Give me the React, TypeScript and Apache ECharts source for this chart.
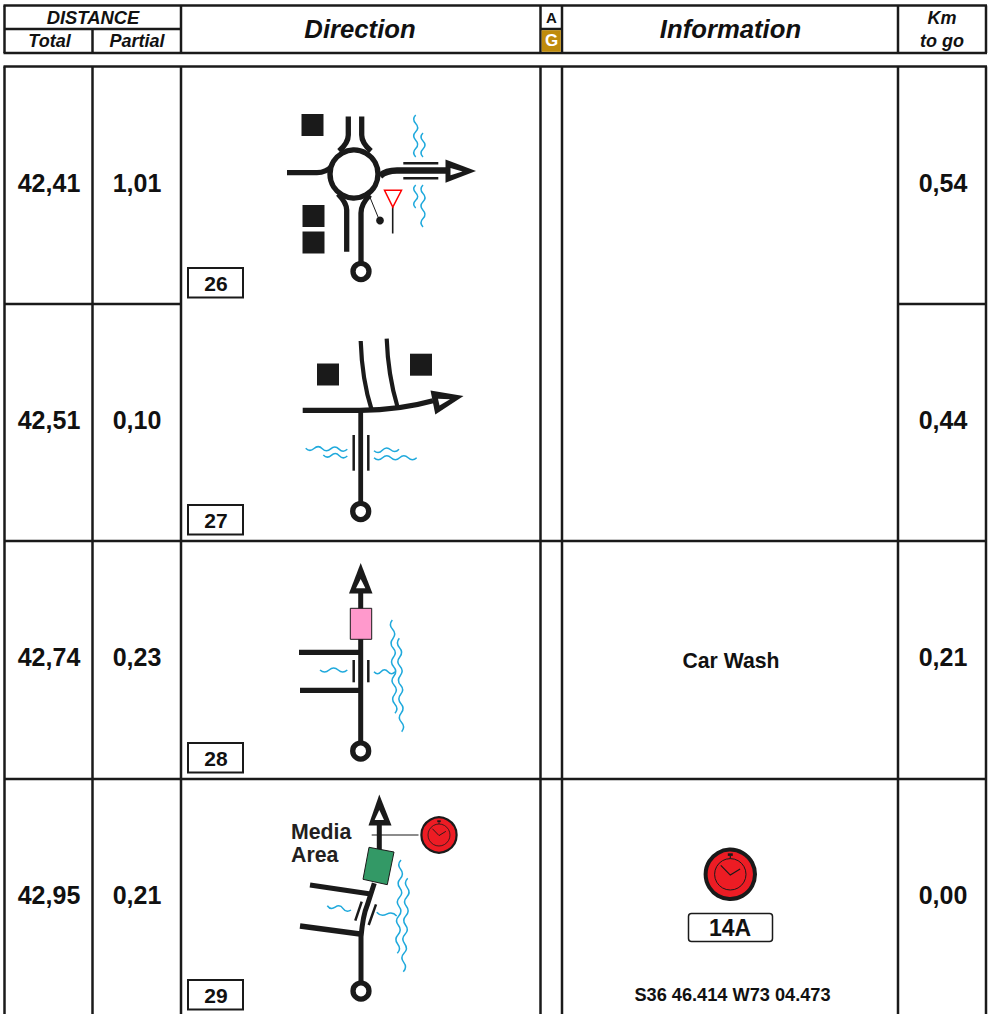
import React, { useEffect, useRef } from "react";
import * as echarts from "echarts";

const totals = ["42,41", "42,51", "42,74", "42,95"];
const partials = ["1,01", "0,10", "0,23", "0,21"];
const remaining = ["0,54", "0,44", "0,21", "0,00"];
const stepNumbers = ["26", "27", "28", "29"];
const notes = ["", "", "Car Wash", ""];
const clockCode = "14A";
const gps = "S36 46.414 W73 04.473";
const labelLines = ["Media", "Area"];

const FONT = "'Liberation Sans', Arial, sans-serif";
const INK = "#1a1a1a";
const WATER = "#1fa9dc";
const RED = "#ed1c24";

const colX = [4.5, 92.5, 181, 540.5, 562, 898, 986];
const rowY = [66.5, 304, 541, 779];
const rowCenter = [182.5, 419.5, 657, 894.5];
const boxTop = [268, 505, 743, 980];

let shapeId = 0;
function path(d: string, stroke: string, lineWidth: number, fill = "none") {
  const name = "rb" + shapeId++;
  echarts.graphic.registerShape(name, echarts.graphic.extendPath(d, {}));
  return { type: name, silent: true, style: { fill, stroke, lineWidth } };
}
function wave(x0: number, y0: number, x1: number, y1: number, n: number, amp = 2) {
  const dx = (x1 - x0) / n, dy = (y1 - y0) / n;
  const len = Math.hypot(dx, dy) || 1;
  const nx = -dy / len, ny = dx / len;
  let d = `M${x0} ${y0}`;
  for (let i = 0; i < n; i++) {
    const s = i % 2 ? -1 : 1;
    const mx = x0 + dx * (i + 0.5) + nx * amp * 2 * s;
    const my = y0 + dy * (i + 0.5) + ny * amp * 2 * s;
    d += ` Q${mx} ${my} ${x0 + dx * (i + 1)} ${y0 + dy * (i + 1)}`;
  }
  return path(d, WATER, 1.5);
}
const seg = (x1: number, y1: number, x2: number, y2: number, lw = 5.3, color = INK) => ({
  type: "line", silent: true, shape: { x1, y1, x2, y2 }, style: { stroke: color, lineWidth: lw },
});
const box = (x: number, y: number, w: number, h: number, fill = INK, stroke = "none", lw = 0, r = 0) => ({
  type: "rect", silent: true, shape: { x, y, width: w, height: h, r }, style: { fill, stroke, lineWidth: lw },
});
const ring = (cx: number, cy: number, r: number, fill = "#fff", stroke = INK, lw = 5) => ({
  type: "circle", silent: true, shape: { cx, cy, r }, style: { fill, stroke, lineWidth: lw },
});
const poly = (points: number[][], fill: string, stroke = "none", lw = 0) => ({
  type: "polygon", silent: true, shape: { points }, style: { fill, stroke, lineWidth: lw },
});
const label = (
  text: string, x: number, y: number, fontSize: number,
  opt: { italic?: boolean; fill?: string; align?: string } = {},
) => ({
  type: "text", silent: true,
  style: {
    text, x, y, fontSize, fontWeight: "bold", fontStyle: opt.italic ? "italic" : "normal",
    fontFamily: FONT, fill: opt.fill || "#111", textAlign: opt.align || "center", textVerticalAlign: "middle",
  },
});
const arrow = (outer: number[][], inner: number[][]) => [poly(outer, INK), poly(inner, "#fff")];
const startRing = (cx: number, cy: number) => ring(cx, cy, 8, "#fff", INK, 5.3);

function tableLines() {
  const out: any[] = [];
  const lw = 2.5;
  [5.5, 53].forEach((y) => out.push(seg(colX[0] - 1, y, colX[6] + 1, y, lw)));
  colX.forEach((x, i) => {
    if (i === 1) out.push(seg(x, 29, x, 53, lw));
    else out.push(seg(x, 5.5, x, 53, lw));
  });
  out.push(seg(colX[0], 29, colX[2], 29, lw));
  out.push(seg(colX[3], 29, colX[4], 29, lw));
  out.push(seg(colX[0] - 1, rowY[0], colX[6] + 1, rowY[0], lw));
  colX.forEach((x) => out.push(seg(x, rowY[0], x, 1014, lw)));
  out.push(seg(colX[0], rowY[1], colX[2], rowY[1], lw));
  out.push(seg(colX[5], rowY[1], colX[6], rowY[1], lw));
  out.push(seg(colX[0], rowY[2], colX[6], rowY[2], lw));
  out.push(seg(colX[0], rowY[3], colX[6], rowY[3], lw));
  return out;
}

function header() {
  return [
    box(colX[3] + 1.2, 30.2, colX[4] - colX[3] - 2.4, 21.6, "#bf8b0b"),
    label("DISTANCE", 93, 17, 18.4, { italic: true }),
    label("Total", 49.5, 41, 18, { italic: true }),
    label("Partial", 137, 41, 18, { italic: true }),
    label("Direction", 360, 28.5, 25.7, { italic: true }),
    label("A", 551.5, 17, 15),
    label("G", 551.5, 40.5, 17, { fill: "#fff" }),
    label("Information", 730.5, 28.5, 25.7, { italic: true }),
    label("Km", 942, 17.5, 18, { italic: true }),
    label("to go", 942, 41, 18, { italic: true }),
  ];
}

function rows() {
  const out: any[] = [];
  totals.forEach((t, i) => {
    out.push(label(t, 49, rowCenter[i], 25));
    out.push(label(partials[i], 137, rowCenter[i], 25));
    out.push(label(remaining[i], 943, rowCenter[i], 25));
    out.push(box(188, boxTop[i], 55, 29.5, "#fff", INK, 2));
    out.push(label(stepNumbers[i], 216, boxTop[i] + 15, 21));
    if (notes[i]) out.push(label(notes[i], 731, rowCenter[i] + 3, 21.2));
  });
  return out;
}

function clock(cx: number, cy: number, r: number, rim: number, large: boolean) {
  const k = r / 26.7;
  return [
    ring(cx, cy, r - rim / 2, RED, INK, rim),
    box(cx - 2.5 * k, cy - 21 * k, 5 * k, 2.6 * k, INK),
    seg(cx, cy - 18.4 * k, cx, cy - 15.7 * k, 1.2 * k),
    ring(cx, cy, 15.7 * k, "none", INK, large ? 1 : 0.8),
    path(`M${cx - 9.5 * k} ${cy - 9 * k} L${cx} ${cy + 0.8 * k} L${cx + 9.8 * k} ${cy - 5.2 * k}`, INK, large ? 1.2 : 0.9),
  ];
}

function step26() {
  return [
    box(301.5, 114, 22, 22), box(302.5, 205, 22, 22), box(302.5, 231.5, 22, 22),
    wave(415.7, 115, 415.7, 157, 5), wave(423, 133, 423, 157, 3),
    wave(415.7, 185, 415.7, 208, 3), wave(423, 185, 423, 227, 5),
    path("M287 172.7 L317 172.7 Q326 172.7 332 166", INK, 5.3),
    path("M348.3 116.5 L348.3 135 Q348.3 143 339 151", INK, 5.3),
    path("M361.7 116.5 L361.7 135 Q361.7 143 371 151", INK, 5.3),
    path("M346.7 251.7 L346.7 210 Q346.7 203 338 194", INK, 5.3),
    path("M361 264 L361 213 Q361 204 370 195", INK, 5.3),
    ring(354, 174, 24, "#fff", INK, 5.4),
    path("M380 176 Q386 170.5 397 170.5 L447 170.5", INK, 6.5),
    seg(403.3, 163.3, 438.3, 163.3, 2.5), seg(403.3, 178.3, 438.3, 178.3, 2.5),
    ...arrow([[445.5, 159.5], [476, 171], [445.5, 182.8]], [[450.5, 168], [462.5, 171.5], [450.5, 175.3]]),
    seg(369, 195, 379.3, 220, 1), ring(380, 220.5, 3.9, INK, "none", 0),
    seg(392.7, 207, 392.7, 233.5, 1.6),
    poly([[384.5, 190.3], [401.5, 190.3], [392.8, 207]], "#fff", "#f00", 1.5),
    startRing(361, 271.5),
  ];
}

function step27() {
  return [
    box(317, 363.5, 22, 22), box(410, 353.7, 22, 22),
    path("M360.7 341 Q362 380 371.7 410", INK, 4.2),
    path("M386.7 338.7 Q388 375 397.3 406", INK, 4.2),
    path("M302.7 410.3 L360 410.3 Q400 410 433 400.7", INK, 5.3),
    ...arrow([[463.5, 396], [430.5, 390.5], [435.3, 414.5]], [[438, 398.8], [450, 399.2], [439.5, 405.5]]),
    seg(360.7, 410, 360.7, 504, 4.8),
    seg(353.7, 435, 353.7, 470.7, 2.5), seg(368.3, 435, 368.3, 470.7, 2.5),
    wave(305.7, 448.3, 347.3, 449.3, 5), wave(323.3, 455, 347.3, 456, 3),
    wave(374, 450.7, 399, 449.3, 3), wave(374, 457.7, 416.7, 457.7, 5),
    startRing(360.7, 511.5),
  ];
}

function step28() {
  return [
    seg(360.7, 588, 360.7, 742, 5),
    seg(299, 652.3, 360, 652.3), seg(300, 690.3, 360, 690.3),
    box(350.3, 608.3, 21.4, 31, "#ff99cc", INK, 1),
    ...arrow([[360.7, 563], [349, 593.5], [372.5, 593.5]], [[360.7, 579], [356, 588.3], [365.4, 588.3]]),
    seg(353.7, 660, 353.7, 682.3, 2.5), seg(368.3, 660, 368.3, 682.3, 2.5),
    wave(320, 670, 347.3, 670, 3), wave(374, 671.7, 395, 671.7, 3),
    wave(392.3, 620, 395, 713.3, 10), wave(399.3, 638.3, 401.7, 731.7, 10),
    startRing(360.7, 751),
  ];
}

function step29() {
  return [
    path("M361 982 L361 936.7 Q363 915 367.3 905 L374.3 883.3", INK, 5),
    seg(379.3, 823, 379.3, 850, 5),
    seg(310, 885, 370.7, 894), seg(300, 926, 360, 934),
    poly([[369, 847.3], [394, 852], [387.3, 884.7], [363, 879.3]], "#339966", INK, 1),
    ...arrow([[379.3, 794.5], [368.5, 825.5], [391.5, 825.5]], [[379.3, 810], [374.6, 820], [384, 820]]),
    seg(361.7, 901.7, 355.3, 920.7, 2.5), seg(376, 904.3, 368.7, 925, 2.5),
    wave(327.3, 905.7, 351, 910, 3), wave(376.7, 912.3, 396.7, 916, 2),
    wave(401, 860, 397.3, 953.3, 10), wave(407.7, 878.3, 403.3, 971.7, 10),
    seg(371.7, 835, 418.5, 835, 1.2),
    ...clock(439, 835, 18.7, 2.2, false),
    label(labelLines[0], 291, 831.5, 21.3, { align: "left", fill: "#231f20" }),
    label(labelLines[1], 291, 854.5, 21.3, { align: "left", fill: "#231f20" }),
    startRing(361, 991),
  ];
}

function clockPanel() {
  return [
    ...clock(730.3, 874.3, 26.7, 4, true),
    box(688.5, 913.5, 84, 28, "#fff", INK, 1.5, 3),
    label(clockCode, 730, 927.5, 23),
    label(gps, 732.5, 994.5, 18.2),
  ];
}

export default function App() {
  const ref = useRef<HTMLDivElement>(null);
  useEffect(() => {
    const chart = echarts.init(ref.current!, undefined, { renderer: "svg" });
    chart.setOption({
      animation: false,
      backgroundColor: "#fff",
      graphic: {
        elements: [
          ...tableLines(), ...header(), ...rows(),
          ...step26(), ...step27(), ...step28(), ...step29(), ...clockPanel(),
        ],
      },
    });
    return () => chart.dispose();
  }, []);
  return <div ref={ref} style={{ position: "fixed", left: 0, top: 0, width: 989, height: 1014 }} />;
}
